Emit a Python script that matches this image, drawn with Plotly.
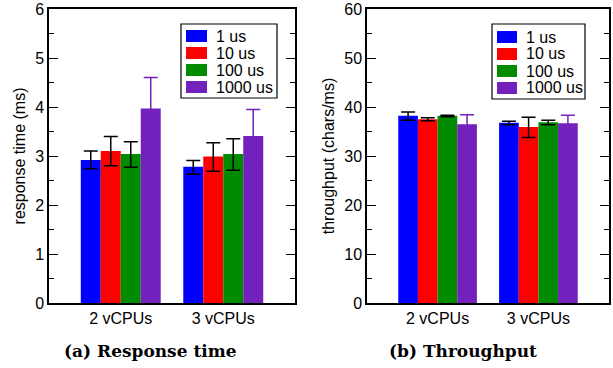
import plotly.graph_objects as go

groups = ["2 vCPUs", "3 vCPUs"]
series = ["1 us", "10 us", "100 us", "1000 us"]
colors = ["#0000ff", "#ff0000", "#008b00", "#7221bc"]
err_colors = ["#000000", "#000000", "#000000", "#7221bc"]

resp = [[2.92, 2.78], [3.10, 2.99], [3.04, 3.04], [3.97, 3.41]]
resp_hi = [[3.10, 2.91], [3.40, 3.27], [3.29, 3.35], [4.60, 3.95]]
resp_lo = [[2.74, 2.63], [2.80, 2.69], [2.77, 2.71], [3.35, 2.87]]

thr = [[38.2, 36.8], [37.5, 35.9], [38.2, 36.9], [36.5, 36.7]]
thr_hi = [[39.0, 37.1], [37.8, 37.9], [38.3, 37.3], [38.4, 38.3]]
thr_lo = [[37.3, 36.4], [37.2, 33.8], [38.0, 36.4], [34.6, 35.1]]

W, H = 613, 368
fig = go.Figure()

def add(vals, hi, lo, xa, ya):
    for i, s in enumerate(series):
        fig.add_trace(go.Bar(
            x=groups, y=vals[i], name=s, xaxis=xa, yaxis=ya, showlegend=False,
            marker=dict(color=colors[i], line=dict(width=0)),
            error_y=dict(type="data", symmetric=False,
                         array=[h - v for h, v in zip(hi[i], vals[i])],
                         arrayminus=[v - l for v, l in zip(vals[i], lo[i])],
                         color=err_colors[i], thickness=1.5, width=7),
        ))

add(resp, resp_hi, resp_lo, "x", "y")
add(thr, thr_hi, thr_lo, "x2", "y2")

SANS = "Liberation Sans, Arial, sans-serif"
tickfont = dict(family=SANS, size=16, color="black")
axfont = dict(family=SANS, size=16, color="black")

def yax(rng, dtick, title, anchor):
    return dict(domain=[1 - 303 / H, 1 - 9 / H], range=rng, dtick=dtick,
                anchor=anchor, showgrid=False, zeroline=False,
                showline=True, linecolor="black", linewidth=1.5, mirror="ticks",
                ticks="inside", ticklen=9, tickwidth=1, tickcolor="black",
                minor=dict(ticks="inside", ticklen=5, dtick=dtick / 2, tickcolor="black", showgrid=False),
                tickfont=tickfont, automargin=False,
                title=dict(text=title, font=axfont, standoff=6))

def xax(dom, anchor):
    return dict(domain=dom, range=[-0.7, 1.7], anchor=anchor, showgrid=False,
                showline=True, linecolor="black", linewidth=1.5, mirror=True,
                ticks="", tickfont=tickfont, automargin=False)

# manual legends (box, swatches, labels) built from series/colors
shapes = []
annotations = []
legend_boxes = [
    dict(x0=181, x1=277, y0=24, y1=98, sx=186, sw=21, tx=214, row0=36),
    dict(x0=492, x1=585, y0=24, y1=99, sx=497, sw=20, tx=524, row0=37),
]
for b in legend_boxes:
    shapes.append(dict(type="rect", xref="paper", yref="paper",
                       x0=b["x0"] / W, x1=b["x1"] / W, y0=1 - b["y1"] / H, y1=1 - b["y0"] / H,
                       line=dict(color="black", width=1.2), fillcolor="white", layer="above"))
    for i, s in enumerate(series):
        yc = b["row0"] + 17 * i
        shapes.append(dict(type="rect", xref="paper", yref="paper",
                           x0=b["sx"] / W, x1=(b["sx"] + b["sw"]) / W,
                           y0=1 - (yc + 6) / H, y1=1 - (yc - 6) / H,
                           line=dict(width=0), fillcolor=colors[i], layer="above"))
        annotations.append(dict(text=s, x=b["tx"] / W, y=1 - yc / H, xref="paper", yref="paper",
                                xanchor="left", yanchor="middle", showarrow=False,
                                font=dict(family=SANS, size=16, color="black")))

SERIF = "DejaVu Serif, serif"
annotations += [
    dict(text="<b>(a) Response time</b>", x=150 / W, y=1 - 351 / H, xref="paper", yref="paper",
         xanchor="center", yanchor="middle", showarrow=False,
         font=dict(family=SERIF, size=17, color="black")),
    dict(text="<b>(b) Throughput</b>", x=463 / W, y=1 - 351 / H, xref="paper", yref="paper",
         xanchor="center", yanchor="middle", showarrow=False,
         font=dict(family=SERIF, size=17, color="black")),
]

fig.update_layout(
    width=W, height=H, margin=dict(l=0, r=0, t=0, b=0, autoexpand=False),
    paper_bgcolor="white", plot_bgcolor="white", showlegend=False,
    barmode="group", bargap=0.22, bargroupgap=0,
    xaxis=xax([49 / W, 295 / W], "y"),
    yaxis=yax([0, 6], 1, "response time (ms)", "x"),
    xaxis2=xax([367 / W, 609 / W], "y2"),
    yaxis2=yax([0, 60], 10, "throughput (chars/ms)", "x2"),
    shapes=shapes,
    annotations=annotations,
)

fig.write_html("out.html", config={"displayModeBar": False},
               post_script="document.body.style.margin='0';document.body.style.overflow='hidden';")
